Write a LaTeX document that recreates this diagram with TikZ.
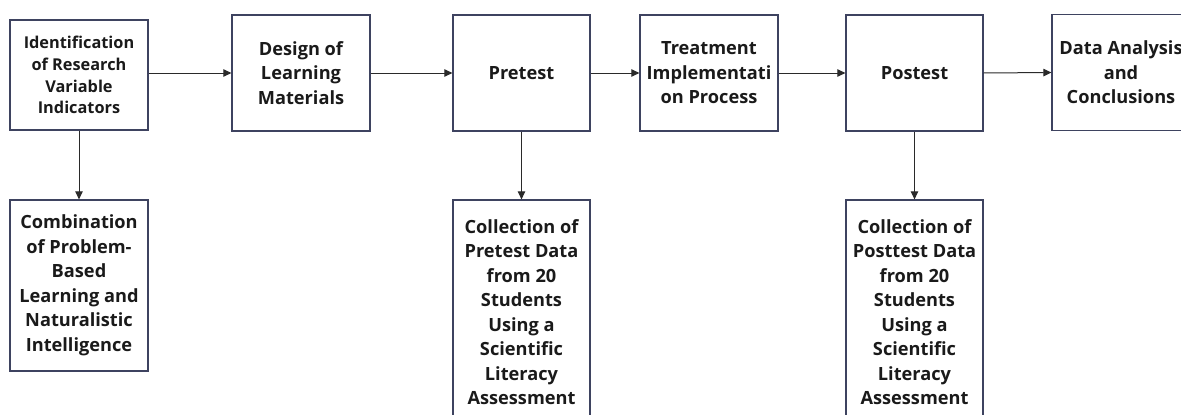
\documentclass[tikz,border=0pt]{standalone}
\usepackage{fontspec}
\setmainfont{Open Sans}
\usetikzlibrary{arrows.meta}
\definecolor{boxline}{HTML}{3E4360}
\definecolor{txt}{HTML}{1A1A1A}
\definecolor{arr}{HTML}{2A2A2A}
\begin{document}
\begin{tikzpicture}[x=1pt,y=-1pt,
  stepbox/.style={draw=boxline,line width=1.3pt,fill=white,rectangle,align=center,
    text=txt,font=\fontsize{18.2}{24.5}\selectfont\bfseries,inner sep=1pt},
  conn/.style={draw=arr,line width=1pt,-{Triangle[length=8pt,width=7.5pt]}}]
\useasboundingbox (0,0) rectangle (1181,415);
\clip (0,0) rectangle (1181,415);
\fill[white] (0,0) rectangle (1181,415);
\node[stepbox,minimum width=138pt,minimum height=110pt,font=\fontsize{16.3}{21.7}\selectfont\bfseries] (ident) at (79,75) {Identification\\of Research\\Variable\\Indicators};
\node[stepbox,minimum width=138pt,minimum height=116pt] (design) at (301,73) {Design of\\Learning\\Materials};
\node[stepbox,minimum width=137pt,minimum height=116pt] (pre) at (521.5,73) {Pretest};
\node[stepbox,minimum width=138pt,minimum height=116pt] (treat) at (709,73) {Treatment\\Implementati\\on Process};
\node[stepbox,minimum width=137pt,minimum height=116pt] (post) at (914.5,73) {Postest};
\node[stepbox,minimum width=138pt,minimum height=116pt] (data) at (1121,72.5) {Data Analysis\\and\\Conclusions};
\node[stepbox,minimum width=138pt,minimum height=171pt] (comb) at (79,285.5) {Combination\\of Problem-\\Based\\Learning and\\Naturalistic\\Intelligence};
\node[stepbox,minimum width=137pt,minimum height=224pt] (precol) at (521.5,312) {Collection of\\Pretest Data\\from 20\\Students\\Using a\\Scientific\\Literacy\\Assessment};
\node[stepbox,minimum width=137pt,minimum height=224pt] (postcol) at (914.5,312) {Collection of\\Posttest Data\\from 20\\Students\\Using a\\Scientific\\Literacy\\Assessment};
\draw[conn] (ident.east |- design.west) -- (design.west);
\draw[conn] (design.east) -- (pre.west);
\draw[conn] (pre.east) -- (treat.west);
\draw[conn] (treat.east) -- (post.west);
\draw[conn] (post.east) -- (data.west);
\draw[conn] (ident.south) -- (comb.north);
\draw[conn] (pre.south) -- (precol.north);
\draw[conn] (post.south) -- (postcol.north);
\end{tikzpicture}
\end{document}
